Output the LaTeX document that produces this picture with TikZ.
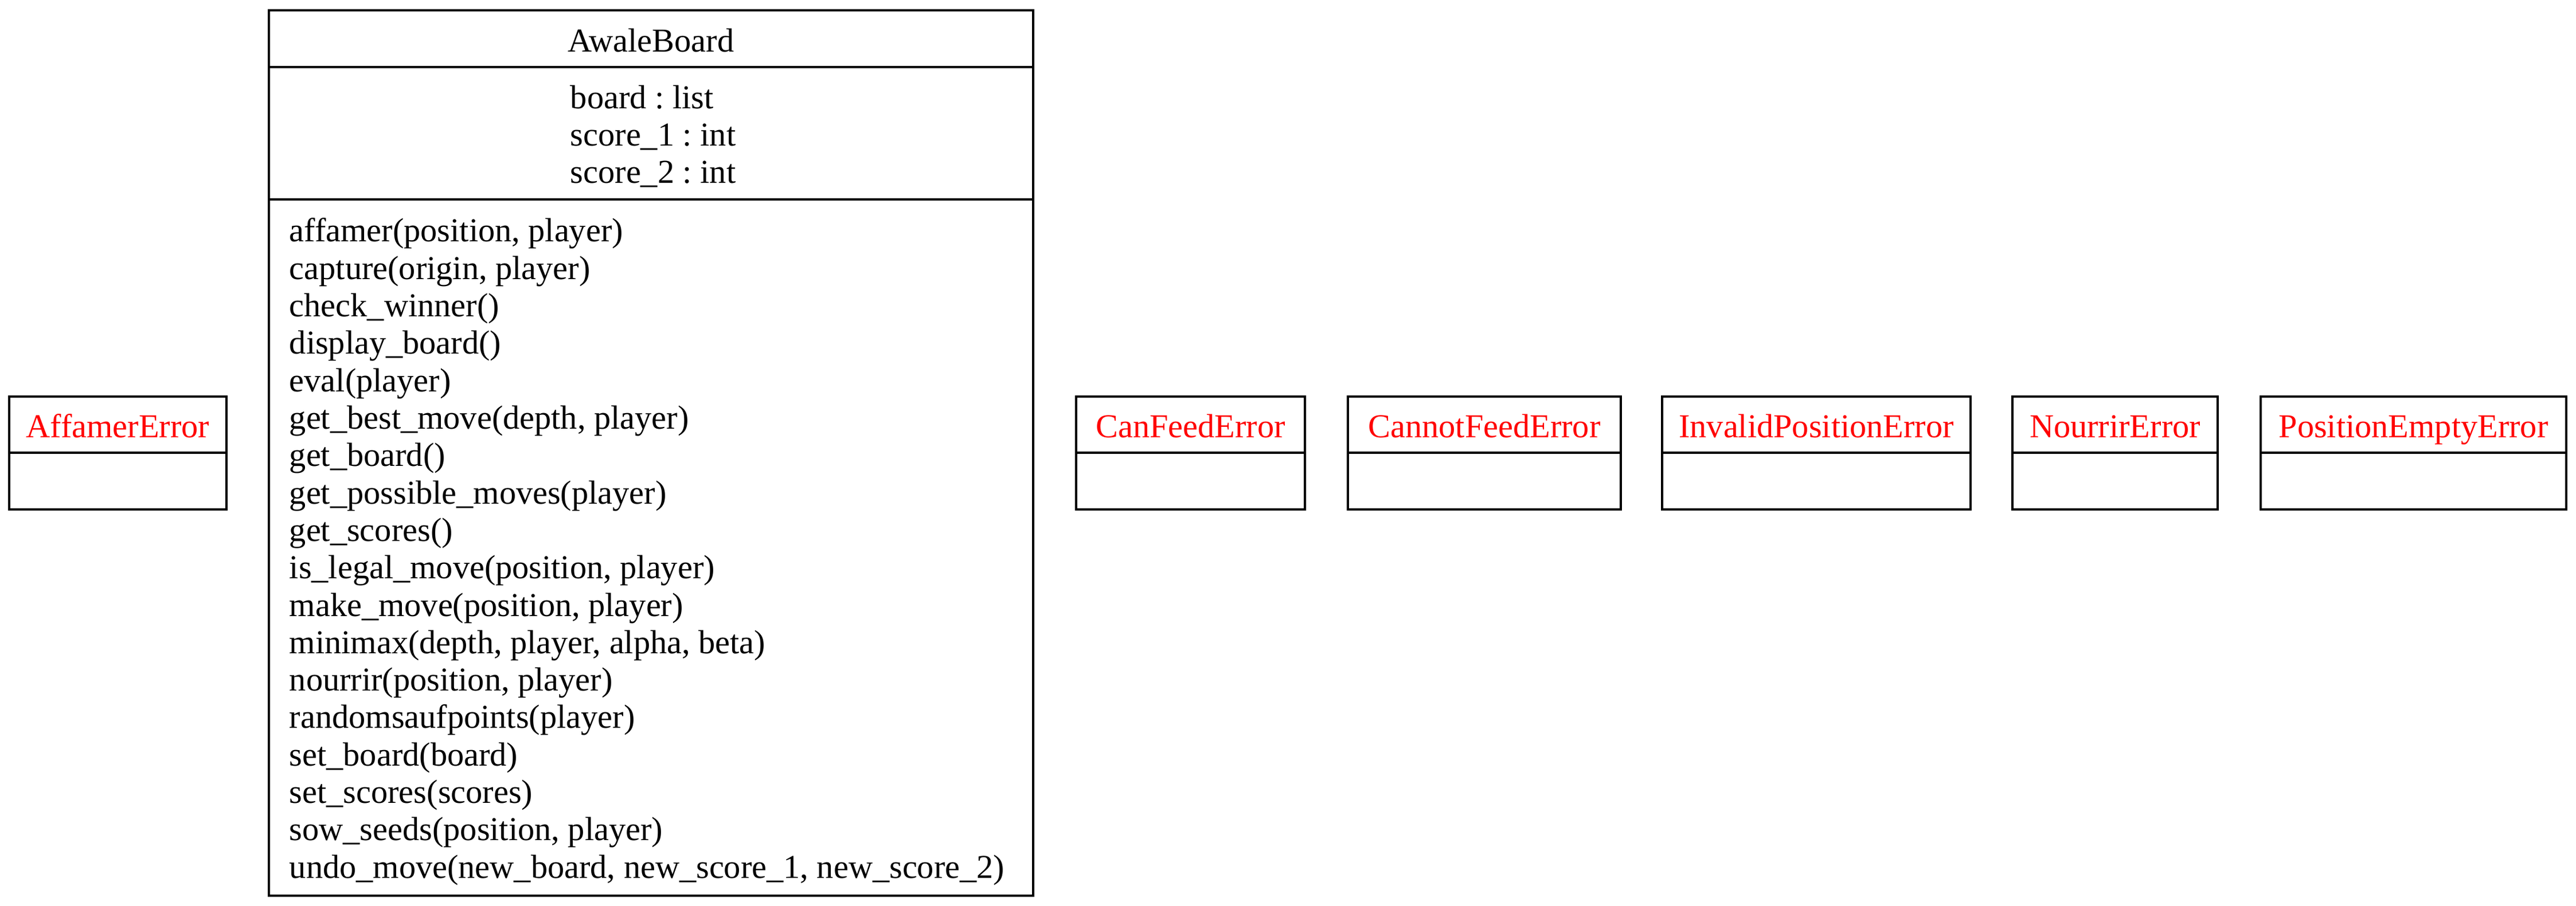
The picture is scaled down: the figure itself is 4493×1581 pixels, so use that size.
\documentclass[tikz,border=0pt]{standalone}
\usepackage{fontspec}
\setmainfont{Liberation Serif}
\usepackage{tikz}
\colorlet{errorred}{red}
\colorlet{boxline}{black}
\frenchspacing

\begin{document}
\begin{tikzpicture}[x=0.24pt,y=-0.24pt,
        classbox/.style={draw=boxline, line width=0.96pt},
        member/.style={inner sep=0pt, font=\fontsize{14}{15.7}\selectfont}]
        \useasboundingbox (0,0) rectangle (4493,1581);
        \draw[classbox] (469,18) rectangle (1802,1563);
        \draw[classbox] (469,117) -- (1802,117);
        \draw[classbox] (469,348) -- (1802,348);
        \node[member, anchor=base] (awale) at (1135.5,91) {AwaleBoard};
        \foreach \a [count=\i] in {board : list, score\_1 : int, score\_2 : int}{
            \node[member, anchor=base west] (attr\i) at (994,189.4+65.3*\i-65.3) {\a};
        }
        \foreach \m [count=\i] in {{affamer(position, player)}, {capture(origin, player)},
            check\_winner(), display\_board(), eval(player), {get\_best\_move(depth, player)},
            get\_board(), get\_possible\_moves(player), get\_scores(),
            {is\_legal\_move(position, player)}, {make\_move(position, player)},
            {minimax(depth, player, alpha, beta)}, {nourrir(position, player)},
            randomsaufpoints(player), set\_board(board), set\_scores(scores),
            {sow\_seeds(position, player)}, {undo\_move(new\_board, new\_score\_1, new\_score\_2)}}{
            \node[member, anchor=base west] (meth\i) at (504,422+65.3*\i-65.3) {\m};
        }
        \foreach \l/\r/\name in {16/395/AffamerError, 1877/2276/CanFeedError,
            2351/2827/CannotFeedError, 2899/3437/InvalidPositionError,
            3510/3868/NourrirError, 3943/4476/PositionEmptyError}{
            \draw[classbox] (\l,692) rectangle (\r,889);
            \draw[classbox] (\l,790) -- (\r,790);
            \node[member, anchor=base, text=errorred] (\name) at ({(\l+\r)/2},763) {\name};
        }
    \end{tikzpicture}
\end{document}
